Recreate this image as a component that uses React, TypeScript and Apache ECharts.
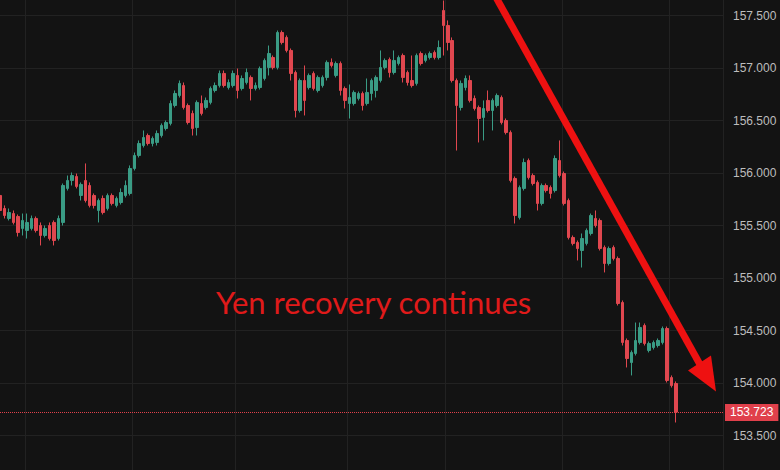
import React, { useEffect, useRef } from "react";
import * as echarts from "echarts";

// USD/JPY candles
const OPEN = [
  155.786, 155.662, 155.567, 155.614, 155.586, 155.472, 155.453, 155.472, 155.567, 155.5,
  155.405, 155.5, 155.529, 155.376, 155.529, 155.853, 155.929, 155.967, 155.786, 155.929,
  155.881, 155.786, 155.643, 155.757, 155.662, 155.786, 155.691, 155.719, 155.786, 155.805,
  156.043, 156.167, 156.262, 156.357, 156.281, 156.291, 156.357, 156.424, 156.472, 156.643,
  156.738, 156.833, 156.643, 156.567, 156.433, 156.662, 156.624, 156.672, 156.786, 156.833,
  156.948, 156.814, 156.833, 156.929, 156.805, 156.862, 156.91, 156.805, 156.814, 156.9,
  157.005, 157.1, 157.005, 157.338, 157.291, 157.167, 156.957, 156.595, 156.881, 156.814,
  156.948, 156.786, 156.833, 156.91, 157.053, 156.929, 157.043, 156.805, 156.662, 156.662,
  156.71, 156.757, 156.662, 156.757, 156.786, 156.881, 157.005, 157.081, 156.957, 157.043,
  157.119, 156.957, 156.881, 156.853, 157.138, 157.072, 157.1, 157.148, 157.1, 157.548,
  157.405, 157.262, 156.881, 156.624, 156.814, 156.881, 156.71, 156.624, 156.529, 156.691,
  156.595, 156.643, 156.719, 156.5, 156.386, 155.948, 155.576, 155.853, 156.119, 155.976,
  155.91, 155.71, 155.881, 155.862, 155.833, 156.119, 155.995, 155.738, 155.386, 155.338,
  155.262, 155.329, 155.424, 155.567, 155.548, 155.291, 155.138, 155.291, 155.186, 154.767,
  154.405, 154.195, 154.281, 154.386, 154.548, 154.31, 154.338, 154.357, 154.386, 154.519,
  154.052, 153.995,
];
const CLOSE = [
  155.643, 155.595, 155.624, 155.529, 155.433, 155.548, 155.529, 155.567, 155.453, 155.405,
  155.472, 155.376, 155.357, 155.567, 155.881, 155.929, 155.976, 155.872, 155.891, 155.738,
  155.691, 155.691, 155.738, 155.624, 155.786, 155.71, 155.757, 155.814, 155.881, 156.043,
  156.167, 156.281, 156.338, 156.281, 156.329, 156.376, 156.453, 156.481, 156.662, 156.757,
  156.853, 156.624, 156.481, 156.424, 156.672, 156.567, 156.691, 156.805, 156.833, 156.948,
  156.833, 156.862, 156.948, 156.786, 156.9, 156.957, 156.805, 156.833, 156.995, 157.072,
  157.138, 157.005, 157.338, 157.243, 157.167, 156.948, 156.595, 156.881, 156.691, 156.929,
  156.805, 156.91, 156.91, 157.053, 157.024, 157.043, 156.786, 156.691, 156.719, 156.767,
  156.757, 156.643, 156.767, 156.881, 156.91, 157.005, 157.072, 156.957, 157.072, 157.1,
  156.91, 156.862, 156.833, 157.119, 157.043, 157.119, 157.138, 157.1, 157.195, 157.405,
  157.243, 156.881, 156.643, 156.853, 156.9, 156.691, 156.614, 156.519, 156.614, 156.595,
  156.691, 156.738, 156.481, 156.386, 155.929, 155.595, 155.862, 156.1, 155.957, 155.9,
  155.71, 155.881, 155.833, 155.805, 156.138, 155.976, 155.71, 155.386, 155.329, 155.281,
  155.376, 155.453, 155.595, 155.5, 155.281, 155.138, 155.281, 155.186, 154.757, 154.386,
  154.233, 154.291, 154.405, 154.529, 154.376, 154.376, 154.386, 154.405, 154.519, 154.024,
  153.976, 153.723,
];
const LOW = [
  155.624, 155.567, 155.548, 155.51, 155.395, 155.405, 155.376, 155.453, 155.433, 155.31,
  155.386, 155.357, 155.31, 155.357, 155.5, 155.833, 155.881, 155.853, 155.738, 155.719,
  155.672, 155.662, 155.529, 155.605, 155.643, 155.691, 155.672, 155.7, 155.767, 155.786,
  156.024, 156.148, 156.243, 156.262, 156.253, 156.262, 156.338, 156.405, 156.453, 156.624,
  156.719, 156.605, 156.462, 156.357, 156.357, 156.548, 156.605, 156.653, 156.767, 156.814,
  156.814, 156.795, 156.814, 156.71, 156.786, 156.843, 156.691, 156.786, 156.795, 156.881,
  156.929, 156.986, 156.986, 157.224, 157.148, 156.881, 156.529, 156.576, 156.548, 156.795,
  156.786, 156.767, 156.814, 156.881, 157.005, 156.91, 156.738, 156.614, 156.519, 156.643,
  156.691, 156.595, 156.643, 156.691, 156.719, 156.862, 156.986, 156.91, 156.938, 157.024,
  156.862, 156.833, 156.814, 156.833, 157.024, 157.053, 157.081, 157.081, 157.081, 157.119,
  157.167, 156.862, 156.214, 156.595, 156.786, 156.672, 156.595, 156.291, 156.31, 156.576,
  156.405, 156.624, 156.462, 156.367, 155.91, 155.519, 155.557, 155.833, 155.938, 155.881,
  155.643, 155.691, 155.814, 155.757, 155.814, 155.957, 155.691, 155.367, 155.31, 155.167,
  155.1, 155.31, 155.405, 155.481, 155.262, 155.053, 155.119, 155.167, 154.738, 154.357,
  154.148, 154.072, 154.262, 154.367, 154.357, 154.291, 154.319, 154.338, 154.367, 154.005,
  153.957, 153.624,
];
const HIGH = [
  155.833, 155.691, 155.662, 155.643, 155.605, 155.614, 155.614, 155.595, 155.586, 155.529,
  155.5, 155.529, 155.548, 155.595, 155.9, 155.976, 156.005, 155.995, 155.91, 156.091,
  155.91, 155.805, 155.757, 155.786, 155.805, 155.805, 155.776, 155.853, 155.929, 156.072,
  156.195, 156.31, 156.405, 156.376, 156.348, 156.405, 156.472, 156.5, 156.691, 156.786,
  156.881, 156.862, 156.662, 156.595, 156.691, 156.738, 156.719, 156.824, 156.862, 156.976,
  156.976, 156.891, 156.976, 156.995, 156.929, 156.995, 156.929, 156.862, 157.014, 157.091,
  157.214, 157.119, 157.357, 157.357, 157.31, 157.186, 156.976, 156.9, 157.024, 156.948,
  156.967, 156.929, 156.929, 157.072, 157.091, 157.062, 157.062, 156.824, 156.843, 156.786,
  156.776, 156.776, 156.9, 156.9, 156.929, 157.167, 157.091, 157.1, 157.167, 157.119,
  157.138, 156.976, 157.119, 157.138, 157.157, 157.138, 157.157, 157.167, 157.262, 157.643,
  157.453, 157.291, 156.9, 156.881, 156.929, 156.929, 156.738, 156.643, 156.691, 156.786,
  156.71, 156.757, 156.738, 156.519, 156.405, 155.967, 155.881, 156.138, 156.138, 155.995,
  155.929, 155.9, 155.9, 155.881, 156.167, 156.31, 156.014, 155.757, 155.405, 155.357,
  155.424, 155.472, 155.614, 155.643, 155.567, 155.31, 155.3, 155.31, 155.205, 154.786,
  154.424, 154.31, 154.576, 154.576, 154.567, 154.395, 154.405, 154.424, 154.538, 154.538,
  154.072, 154.015,
];

const SLOTS = 162; // candle slots along the time axis (right part left empty)
const VGRID_AT = [6, 30, 53, 78, 100, 126, 150]; // slot boundaries with a vertical grid line
const Y_MIN = 153;
const Y_MAX = 158;
const Y_STEP = 0.5;
const LAST_PRICE = 153.723;
const TITLE = "Yen recovery continues";

const UP = "#3a9c85";
const DOWN = "#e0474f";
const GRID = "#222222";
const BG = "#131313";

export default function App() {
  const ref = useRef<HTMLDivElement>(null);

  useEffect(() => {
    if (!ref.current) return;
    const chart = echarts.init(ref.current, undefined, { renderer: "svg" });
    const categories = Array.from({ length: SLOTS }, (_, i) => "c" + i);
    const data = OPEN.map((o, i) => [o, CLOSE[i], LOW[i], HIGH[i]]);

    chart.setOption({
      animation: false,
      backgroundColor: BG,
      grid: { left: 0, right: 57, top: 0, bottom: 0, containLabel: false },
      xAxis: {
        type: "category",
        data: categories,
        boundaryGap: true,
        axisLine: { show: false },
        axisTick: { show: false },
        axisLabel: { show: false },
        splitLine: {
          show: true,
          interval: (idx: number) => VGRID_AT.includes(idx),
          lineStyle: { color: GRID, width: 1 },
        },
      },
      yAxis: {
        type: "value",
        position: "right",
        min: Y_MIN,
        max: Y_MAX,
        interval: Y_STEP,
        axisLine: { show: false },
        axisTick: { show: false },
        axisLabel: {
          color: "#bdbdbd",
          fontSize: 12,
          fontFamily: "Liberation Sans",
          margin: 10,
          formatter: (v: number) => (v <= Y_MIN || v >= Y_MAX ? "" : v.toFixed(3)),
        },
        splitLine: { show: true, lineStyle: { color: GRID, width: 1 } },
      },
      series: [
        {
          type: "candlestick",
          data,
          barWidth: 3,
          itemStyle: {
            color: UP,
            color0: DOWN,
            borderColor: UP,
            borderColor0: DOWN,
            borderWidth: 1,
          },
          markLine: {
            silent: true,
            symbol: ["none", "none"],
            animation: false,
            data: [{ yAxis: LAST_PRICE }],
            lineStyle: { type: "dotted", color: "#e0404b", width: 1 },
            label: {
              show: true,
              position: "end",
              distance: 2,
              formatter: LAST_PRICE.toFixed(3),
              color: "#ffffff",
              backgroundColor: "#e0404b",
              padding: [3, 5, 2, 5],
              fontSize: 12,
              fontFamily: "Liberation Sans",
            },
          },
        },
      ],
      graphic: [
        {
          type: "line",
          shape: { x1: 497, y1: 32.5, x2: 702, y2: 401.5 },
          style: { stroke: "#ee1111", lineWidth: 7 },
          z: 100,
        },
        {
          type: "polygon",
          shape: { points: [[718, 428.5], [690, 407.5], [713, 392.5]] },
          style: { fill: "#ee1111" },
          z: 100,
        },
        {
          type: "text",
          x: 218,
          y: 338.5,
          style: {
            text: TITLE,
            fill: "#e01a1a",
            fontSize: 31,
            fontFamily: "Lato",
            verticalAlign: "middle",
            align: "left",
          },
          z: 100,
        },
      ],
    });

    return () => chart.dispose();
  }, []);

  return (
    <div
      style={{
        position: "fixed",
        left: 0,
        top: 0,
        width: 780,
        height: 470,
        overflow: "hidden",
        background: BG,
      }}
    >
      <div
        ref={ref}
        style={{ position: "absolute", left: -2, top: -37.5, width: 782, height: 525 }}
      />
    </div>
  );
}
